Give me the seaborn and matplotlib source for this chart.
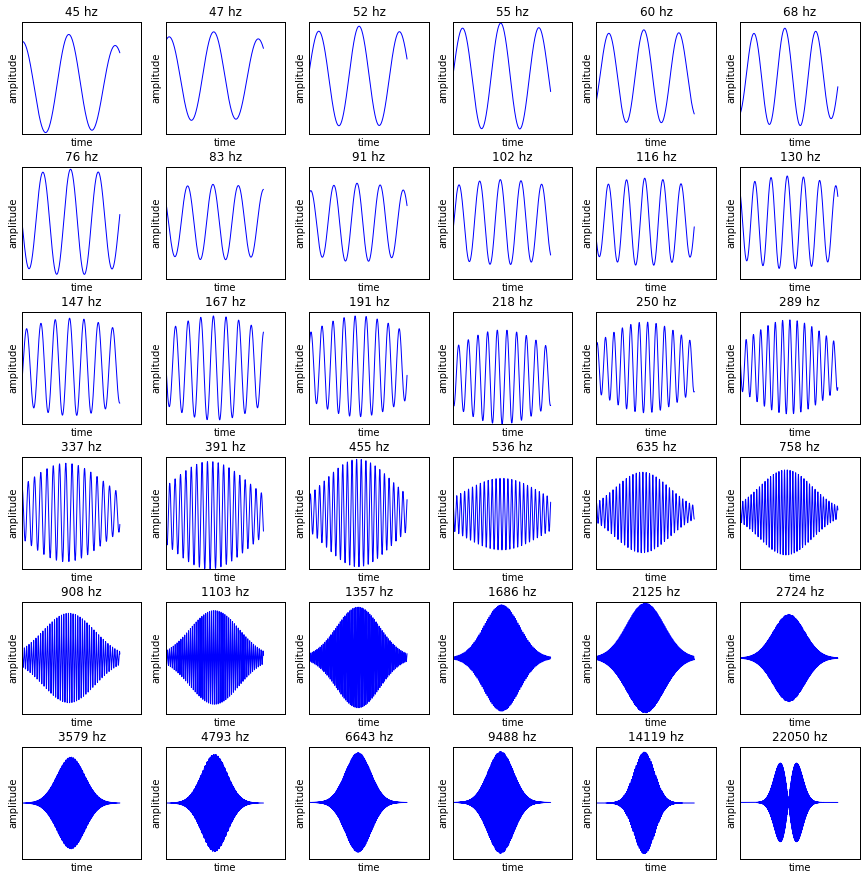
import numpy as np
import pandas as pd
import seaborn as sns
import matplotlib
matplotlib.use("Agg")
import matplotlib.pyplot as plt

# panel titles (centre frequency of each filter)
freqs = [45, 47, 52, 55, 60, 68,
         76, 83, 91, 102, 116, 130,
         147, 167, 191, 218, 250, 289,
         337, 391, 455, 536, 635, 758,
         908, 1103, 1357, 1686, 2125, 2724,
         3579, 4793, 6643, 9488, 14119, 22050]

# peak amplitude, baseline, envelope width/centre, start phase
amps = [0.89, 0.80, 0.90, 0.955, 0.835, 0.875,
        0.945, 0.675, 0.70, 0.76, 0.78, 0.83,
        0.87, 0.93, 0.90, 0.84, 0.81, 0.84,
        0.88, 0.96, 0.96, 0.64, 0.72, 0.76,
        0.80, 0.84, 0.90, 0.95, 0.98, 0.78,
        0.82, 0.87, 0.89, 0.91, 0.91, 0.70]
mids = [-0.11, 0.025, 0.025, 0.025, 0.025, 0.015,
        0.015, 0.015, 0.01, 0.015, 0.02, 0.01,
        0.02, 0.0, 0.03, -0.16, 0.01, 0.02,
        0.01, -0.04, 0.0, -0.02, 0.01, 0.01,
        0.0, 0.01, 0.01, 0.0, 0.0, 0.0,
        0.0, 0.0, 0.01, 0.01, 0.0, 0.01]
widths = [0.75, 0.85, 0.88, 0.9, 0.95, 0.75,
          0.85, 0.95, 0.75, 0.85, 0.7, 0.7,
          0.65, 0.6, 0.55, 0.5, 0.45, 0.42,
          0.4, 0.4, 0.34, 0.4, 0.28, 0.27,
          0.265, 0.25, 0.22, 0.18, 0.19, 0.16,
          0.14, 0.13, 0.13, 0.13, 0.105, 0.083]
centres = [0.42, 0.45, 0.5, 0.5, 0.5, 0.5,
           0.5, 0.5, 0.5, 0.5, 0.5, 0.5,
           0.5, 0.5, 0.5, 0.5, 0.5, 0.5,
           0.45, 0.45, 0.5, 0.5, 0.47, 0.47,
           0.48, 0.5, 0.5, 0.5, 0.5, 0.5,
           0.5, 0.5, 0.5, 0.49, 0.49, 0.495]
phases = [0.0, -0.46, -1.45, -1.57, -2.2, -2.8,
          1.57, 0.85, -0.4, -1.88, 2.15, 0.55,
          -2.0, 1.34, -1.0, 2.5, -0.5, 1.0,
          0.0, 1.5, -1.5, 0.0, 0.0, 0.0,
          0.0, 0.0, 0.0, 0.0, 0.0, 0.0,
          0.0, 0.0, 0.0, 0.0, 0.0, 0.0]

sr = 44100
n = np.arange(2048)
t = n / (len(n) - 1)

sns.set_style("white", {"axes.edgecolor": "black", "text.color": "black",
                        "axes.labelcolor": "black"})
plt.rcParams["axes.linewidth"] = 1.0

fig, axes = plt.subplots(6, 6, figsize=(866 / 72, 881 / 72), dpi=72)
fig.subplots_adjust(left=22 / 866, right=859.5 / 866, top=1 - 22 / 881,
                    bottom=1 - 859 / 881, wspace=0.2017, hspace=0.295)

for i, ax in enumerate(axes.flat):
    f = freqs[i]
    d = (t - centres[i]) / widths[i]
    if f == 22050:
        env = d * np.exp(0.5 - d ** 2 / 2)
    else:
        env = np.exp(-d ** 2 / 2)
    y = mids[i] + amps[i] * env * np.cos(2 * np.pi * f * n / sr + phases[i])
    df = pd.DataFrame({"time": n, "amplitude": y})
    sns.lineplot(data=df, x="time", y="amplitude", ax=ax, color="blue",
                 linewidth=1.0, estimator=None, sort=False)
    ax.set_xlim(0, 2500)
    ax.set_ylim(-1, 1)
    ax.set_xticks([])
    ax.set_yticks([])
    ax.set_title(f"{f} hz", fontsize=12)
    ax.set_xlabel("time", fontsize=10)
    ax.set_ylabel("amplitude", fontsize=10)

fig.savefig("out.png", dpi=72)
